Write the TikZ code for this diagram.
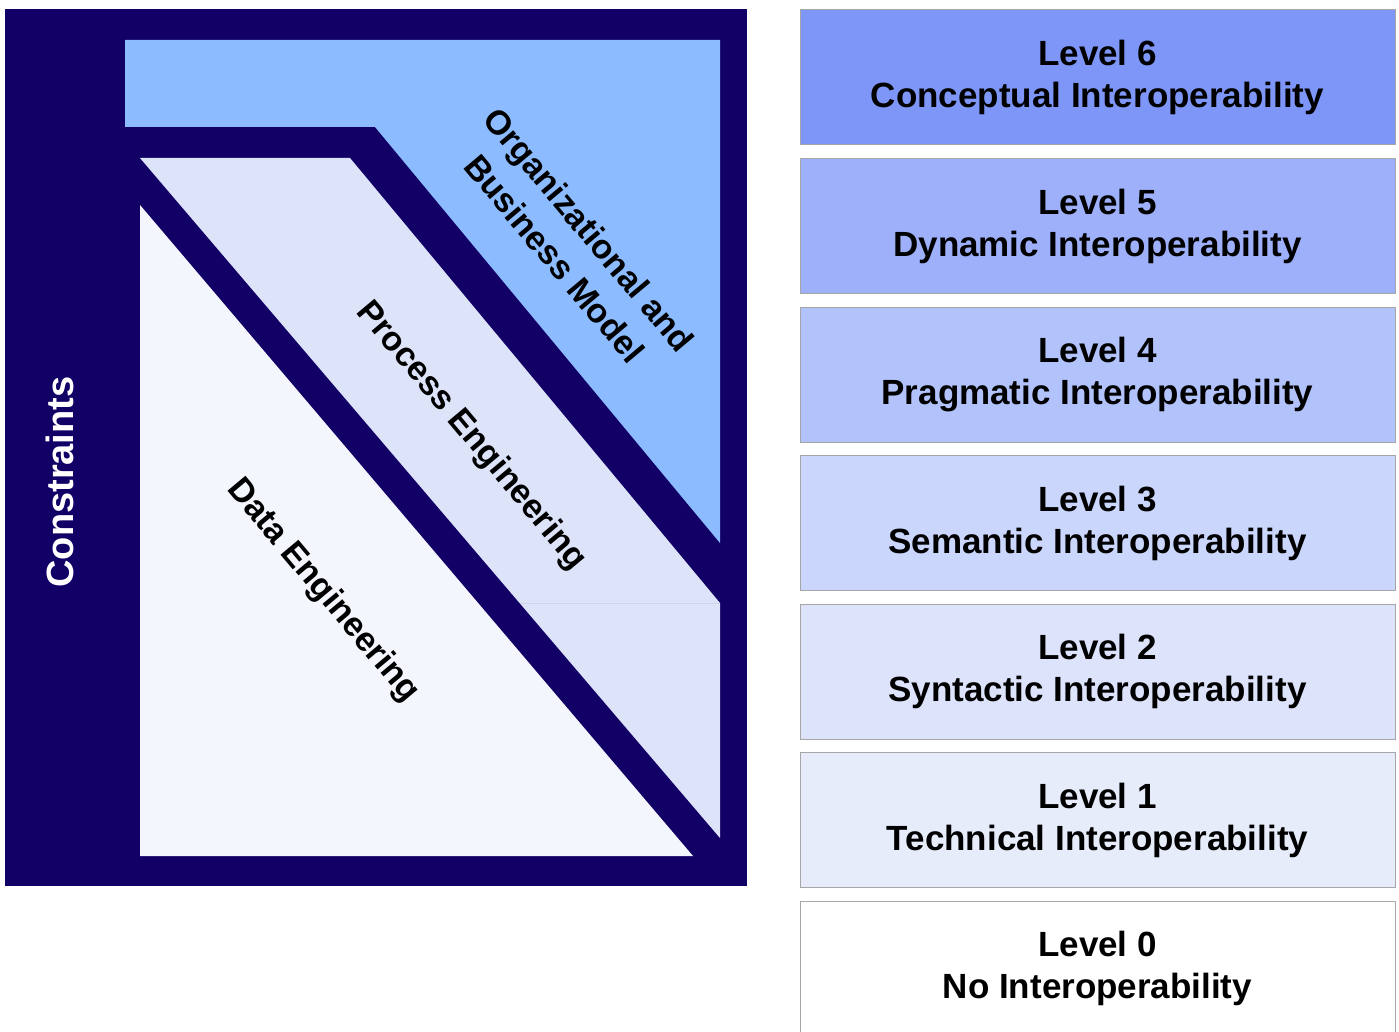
\documentclass[tikz,border=0pt]{standalone}
\usepackage{fontspec}
\setmainfont{Liberation Sans}
\usepackage{xcolor}

\definecolor{navy}{HTML}{120066}
\definecolor{orgblue}{HTML}{8CBCFF}
\definecolor{procblue}{HTML}{DDE4FA}
\definecolor{datablue}{HTML}{F3F6FD}
\definecolor{lvsix}{HTML}{7D96F7}
\definecolor{lvfive}{HTML}{9EB0FA}
\definecolor{lvfour}{HTML}{B2C2FB}
\definecolor{lvthree}{HTML}{CAD6FB}
\definecolor{lvtwo}{HTML}{DCE3FB}
\definecolor{lvone}{HTML}{E7ECFB}
\definecolor{lvzero}{HTML}{FFFFFF}

\tikzset{
  lvbox/.style={draw=gray!70, line width=1pt, minimum width=595pt,
    minimum height=135pt, align=center, inner sep=0pt,
    font=\bfseries\fontsize{35}{42}\selectfont},
  slanted/.style={rotate=-50, align=center, inner sep=0pt,
    font=\bfseries\fontsize{34}{45}\selectfont}
}

\begin{document}
\begin{tikzpicture}[x=1pt,y=-1pt]
  \useasboundingbox (0,0) rectangle (1399,1032);
  % left: layers
  \fill[navy] (5,9) rectangle (747,886);
  \fill[orgblue] (125,40) -- (720,40) -- (720,543) -- (375,127)
    -- (125,127) -- cycle;
  \fill[procblue] (140,158) -- (350,158) -- (720,603) -- (720,838) -- cycle;
  \fill[datablue] (140,205) -- (693,856) -- (140,856) -- cycle;
  \draw[procblue!85!gray, very thin] (520,603) -- (720,603);

  \node[rotate=90, text=white, inner sep=0pt,
    font=\bfseries\fontsize{38}{44}\selectfont] (cons) at (60,482) {Constraints};
  \node[slanted] (org) at (572,244) {Organizational and\\Business Model};
  \node[slanted] (proc) at (471,436) {Process Engineering};
  \node[slanted] (data) at (323,591) {Data Engineering};

  % right: levels
  \foreach \n/\c/\t [count=\i from 0] in {
      6/lvsix/Conceptual, 5/lvfive/Dynamic, 4/lvfour/Pragmatic,
      3/lvthree/Semantic, 2/lvtwo/Syntactic, 1/lvone/Technical,
      0/lvzero/No}
    \node[lvbox, fill=\c] (lv\n) at (1097.5,77.5+148.5*\i)
      {\raisebox{-3pt}{Level \n}\\\raisebox{-3pt}{\t{} Interoperability}};
\end{tikzpicture}
\end{document}
